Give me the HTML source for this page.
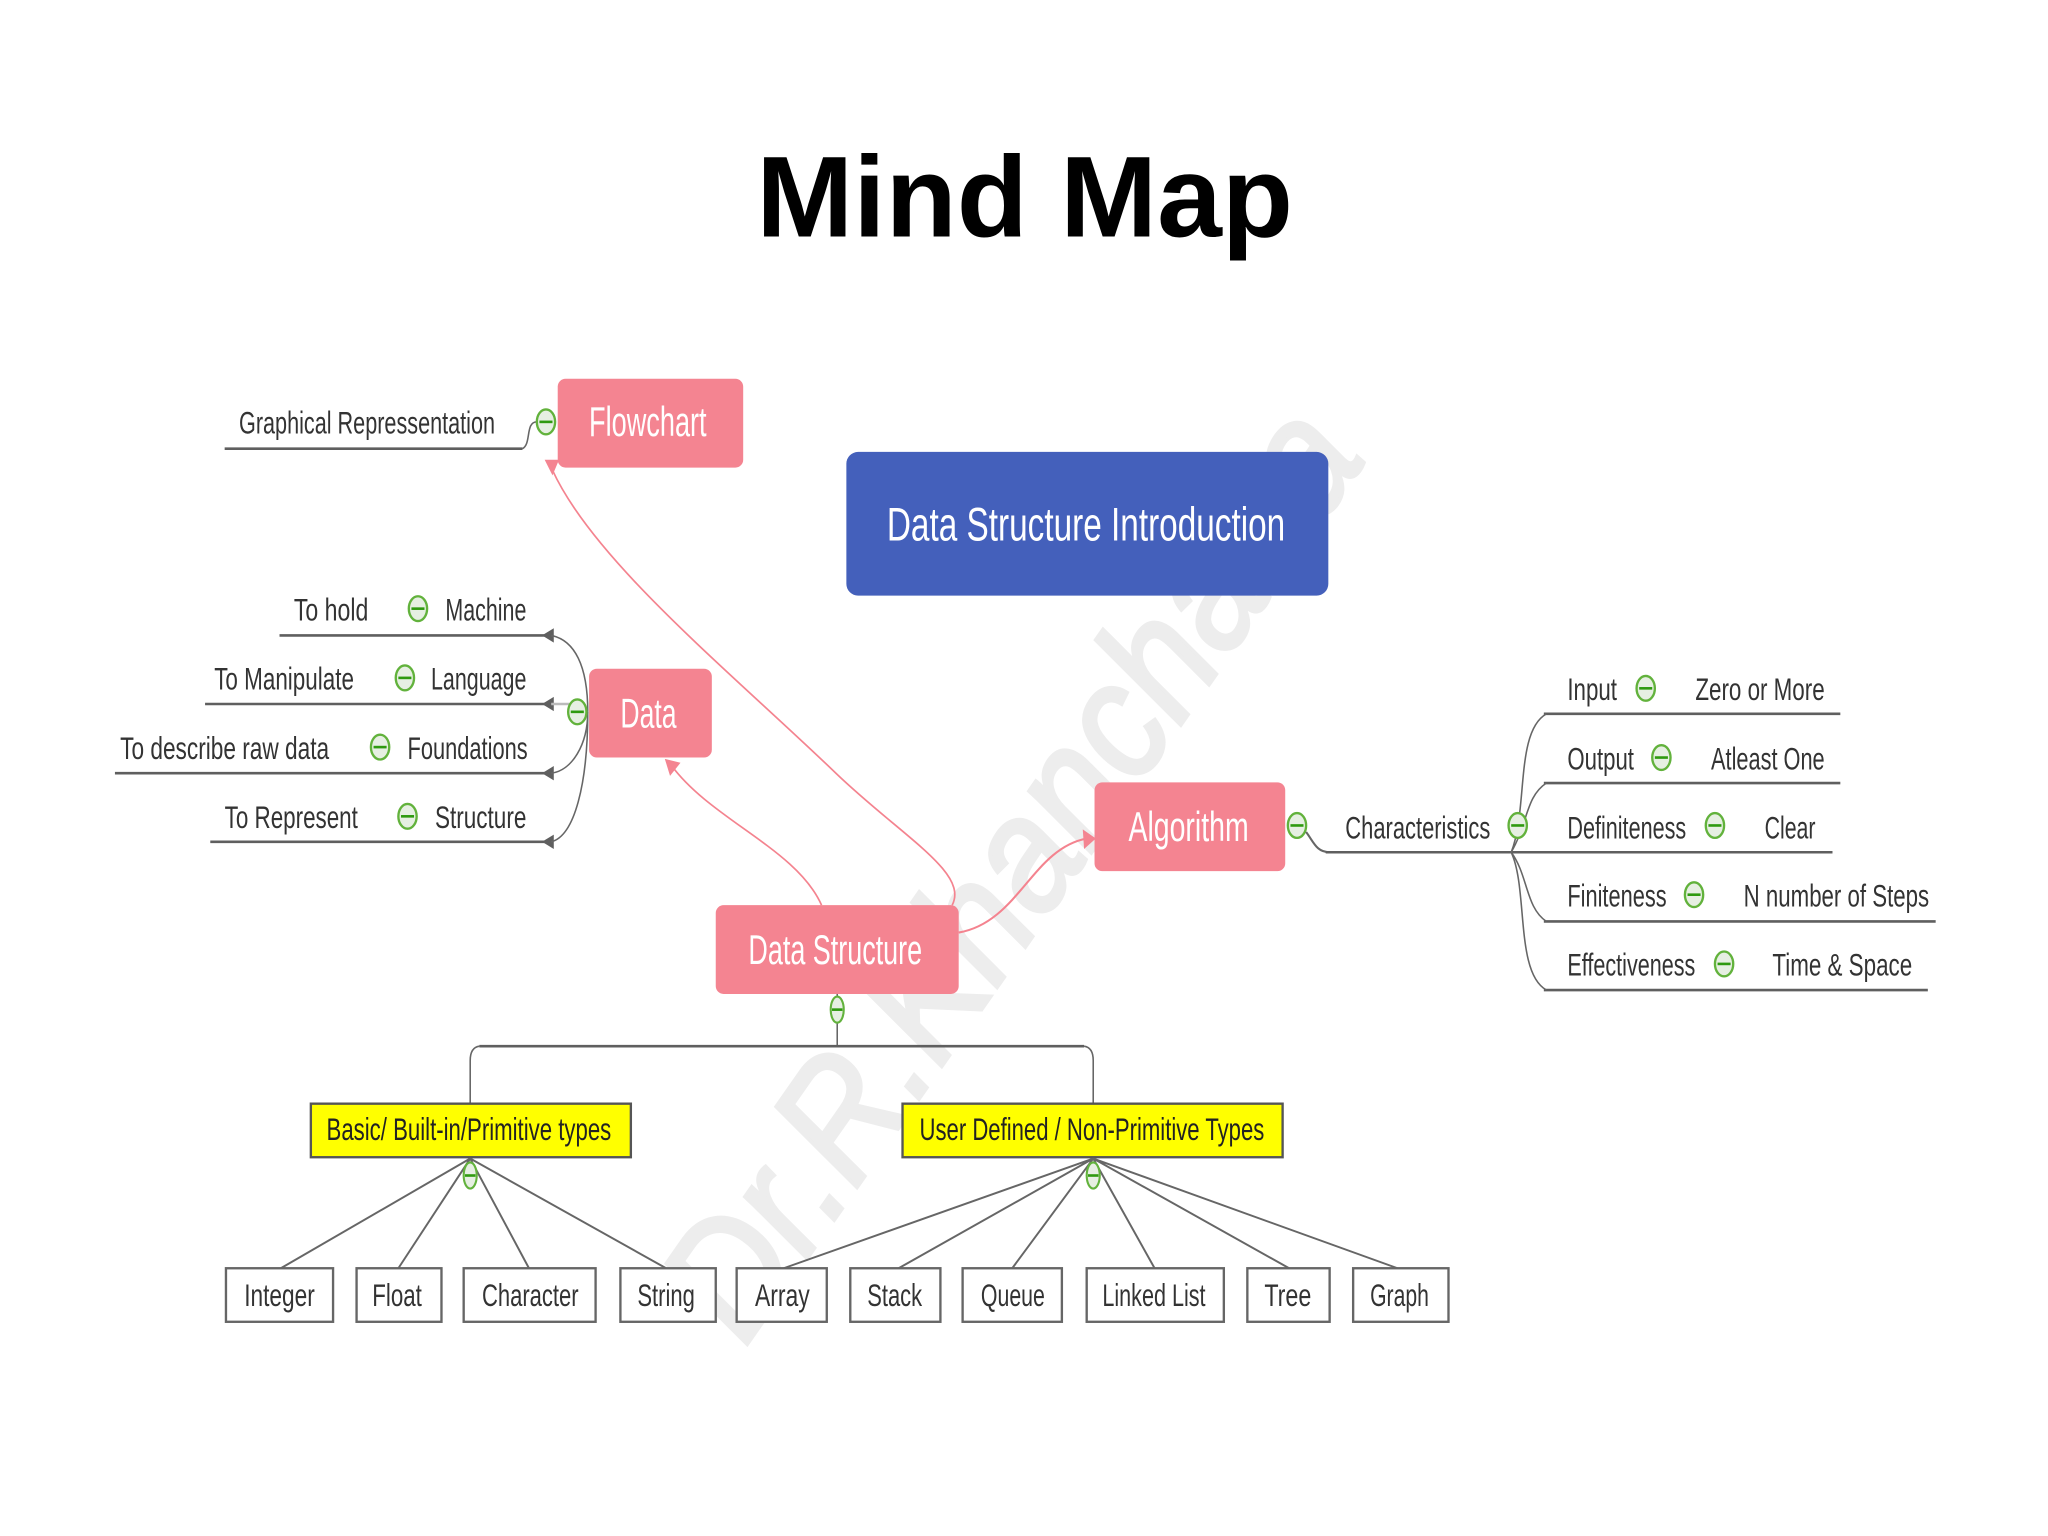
<!DOCTYPE html>
<html>
<head>
<meta charset="utf-8">
<style>
html,body{margin:0;padding:0;background:#fff}
svg{display:block}
text{font-family:"Liberation Sans",sans-serif;fill:#333}
.w{fill:#fff;font-size:32px}
.n{font-size:24px}
.d{font-size:24px;fill:#222}
.l{fill:none;stroke:#5f5f5f;stroke-width:2}
.c{fill:none;stroke:#666;stroke-width:1.2}
.p{fill:none;stroke:#f4838f;stroke-width:1.3}
.b{fill:#fff;stroke:#666;stroke-width:1.8}
</style>
</head>
<body>
<svg width="2048" height="1536" viewBox="0 0 1568 1176" xmlns="http://www.w3.org/2000/svg">
<defs>
<g id="i">
<ellipse cx="0" cy="0" rx="7" ry="9.5" fill="#e6efe2" stroke="#62b23c" stroke-width="1.8"/>
<rect x="-5" y="-1" width="10" height="2" fill="#2f9a10"/>
</g>
<g id="k">
<ellipse cx="0" cy="0" rx="5" ry="10" fill="#e6efe2" stroke="#62b23c" stroke-width="1.6"/>
<rect x="-4" y="-1" width="8" height="2" fill="#2f9a10"/>
</g>
</defs>
<rect width="1568" height="1176" fill="#fff"/>

<text x="0" y="0" transform="translate(570,1032) rotate(-55)" font-size="125" font-style="italic" textLength="832" lengthAdjust="spacingAndGlyphs" style="fill:#ededed;stroke:#ededed;stroke-width:3">Dr.R.Khanchana</text>

<text x="579" y="181" font-size="88" font-weight="bold" textLength="411" lengthAdjust="spacingAndGlyphs" style="fill:#000">Mind Map</text>

<rect x="427" y="290" width="142" height="68" rx="6" fill="#f48491"/>
<text class="w" x="451" y="334" textLength="90" lengthAdjust="spacingAndGlyphs">Flowchart</text>
<rect x="648" y="346" width="369" height="110" rx="9" fill="#4460bb"/>
<text class="w" x="679" y="414" style="font-size:36px" textLength="305" lengthAdjust="spacingAndGlyphs">Data Structure Introduction</text>
<rect x="451" y="512" width="94" height="68" rx="6" fill="#f48491"/>
<text class="w" x="475" y="557" textLength="43" lengthAdjust="spacingAndGlyphs">Data</text>
<rect x="548" y="693" width="186" height="68" rx="6" fill="#f48491"/>
<text class="w" x="573" y="738" textLength="133" lengthAdjust="spacingAndGlyphs">Data Structure</text>
<rect x="838" y="599" width="146" height="68" rx="6" fill="#f48491"/>
<text class="w" x="864" y="644" textLength="92" lengthAdjust="spacingAndGlyphs">Algorithm</text>

<path class="p" d="M729 693 C742 668 690 640 640 592 C560 515 455 430 423 360"/>
<polygon points="417,352 428,352 423,364" fill="#f48491"/>
<path class="p" d="M629 693 C610 650 545 628 514 586"/>
<polygon points="509,581 521,584 513,594" fill="#f48491"/>
<path class="p" d="M734 714 C780 706 790 650 832 642" style="stroke-width:1.6"/>
<polygon points="839,642 829,635 830,650" fill="#f48491"/>

<path class="l" d="M172 343.5 H400"/>
<path class="c" d="M400 343.5 C407 340 402 323 411 323"/>
<use href="#i" x="418" y="323"/>
<text class="n" x="183" y="332" textLength="196" lengthAdjust="spacingAndGlyphs">Graphical Repressentation</text>

<path class="l" d="M214 486.5 H420"/>
<path class="l" d="M157 539 H420"/>
<path class="l" d="M88 592 H420"/>
<path class="l" d="M161 644.5 H420"/>
<polygon points="415,486.5 424,481 424,492" fill="#5f5f5f"/>
<polygon points="415,539 424,533.5 424,544.5" fill="#5f5f5f"/>
<polygon points="415,592 424,586.5 424,597.5" fill="#5f5f5f"/>
<polygon points="415,644.5 424,639 424,650" fill="#5f5f5f"/>
<path class="c" d="M422 486.5 C440 490 450 510 450 545"/>
<path class="c" d="M422 539 H436" style="stroke:#bbb;stroke-width:2"/>
<path class="c" d="M422 592 C438 590 450 570 450 545"/>
<path class="c" d="M422 644.5 C440 640 450 600 450 545"/>
<use href="#i" x="442" y="545"/>

<text class="n" x="225" y="475" textLength="57" lengthAdjust="spacingAndGlyphs">To hold</text>
<use href="#i" x="320" y="466"/>
<text class="n" x="341" y="475" textLength="62" lengthAdjust="spacingAndGlyphs">Machine</text>
<text class="n" x="164" y="528" textLength="107" lengthAdjust="spacingAndGlyphs">To Manipulate</text>
<use href="#i" x="310" y="519"/>
<text class="n" x="330" y="528" textLength="73" lengthAdjust="spacingAndGlyphs">Language</text>
<text class="n" x="92" y="581" textLength="160" lengthAdjust="spacingAndGlyphs">To describe raw data</text>
<use href="#i" x="291" y="572"/>
<text class="n" x="312" y="581" textLength="92" lengthAdjust="spacingAndGlyphs">Foundations</text>
<text class="n" x="172" y="634" textLength="102" lengthAdjust="spacingAndGlyphs">To Represent</text>
<use href="#i" x="312" y="625"/>
<text class="n" x="333" y="634" textLength="70" lengthAdjust="spacingAndGlyphs">Structure</text>

<use href="#i" x="993" y="632"/>
<path class="c" d="M1000 637 C1006 645 1008 652.5 1018 652.5" style="stroke-width:1.6"/>
<path class="l" d="M1015 652.5 H1403"/>
<text class="n" x="1030" y="642" textLength="111" lengthAdjust="spacingAndGlyphs">Characteristics</text>
<path class="l" d="M1182 546.5 H1409"/>
<path class="l" d="M1182 599.5 H1409"/>
<path class="l" d="M1182 705.5 H1482"/>
<path class="l" d="M1182 758 H1476"/>
<path class="c" d="M1157 652.5 C1170 620 1160 560 1184 546.5"/>
<path class="c" d="M1157 652.5 C1170 630 1168 610 1184 599.5"/>
<path class="c" d="M1157 652.5 C1170 670 1168 695 1184 705.5"/>
<path class="c" d="M1157 652.5 C1170 680 1160 745 1184 758"/>
<use href="#i" x="1162" y="632"/>

<text class="n" x="1200" y="536" textLength="38" lengthAdjust="spacingAndGlyphs">Input</text>
<use href="#i" x="1260" y="527"/>
<text class="n" x="1298" y="536" textLength="99" lengthAdjust="spacingAndGlyphs">Zero or More</text>
<text class="n" x="1200" y="589" textLength="51" lengthAdjust="spacingAndGlyphs">Output</text>
<use href="#i" x="1272" y="580"/>
<text class="n" x="1310" y="589" textLength="87" lengthAdjust="spacingAndGlyphs">Atleast One</text>
<text class="n" x="1200" y="642" textLength="91" lengthAdjust="spacingAndGlyphs">Definiteness</text>
<use href="#i" x="1313" y="632"/>
<text class="n" x="1351" y="642" textLength="39" lengthAdjust="spacingAndGlyphs">Clear</text>
<text class="n" x="1200" y="694" textLength="76" lengthAdjust="spacingAndGlyphs">Finiteness</text>
<use href="#i" x="1297" y="685"/>
<text class="n" x="1335" y="694" textLength="142" lengthAdjust="spacingAndGlyphs">N number of Steps</text>
<text class="n" x="1200" y="747" textLength="98" lengthAdjust="spacingAndGlyphs">Effectiveness</text>
<use href="#i" x="1320" y="738"/>
<text class="n" x="1357" y="747" textLength="107" lengthAdjust="spacingAndGlyphs">Time &amp; Space</text>

<path class="c" d="M641 761 V801"/>
<use href="#k" x="641" y="773"/>
<path class="l" d="M367 801 H830"/>
<path class="c" d="M367 801 Q360 802 360 812 V845"/>
<path class="c" d="M830 801 Q837 802 837 812 V845"/>

<rect x="238" y="845" width="245" height="41" fill="#ffff00" stroke="#555" stroke-width="1.8"/>
<text class="d" x="250" y="873" textLength="218" lengthAdjust="spacingAndGlyphs">Basic/ Built-in/Primitive types</text>
<rect x="691" y="845" width="291" height="41" fill="#ffff00" stroke="#555" stroke-width="1.8"/>
<text class="d" x="704" y="873" textLength="264" lengthAdjust="spacingAndGlyphs">User Defined / Non-Primitive Types</text>

<path class="c" d="M360 887 L215 971 M360 887 L305 971 M360 887 L405 971 M360 887 L510 971" style="stroke-width:1.5"/>
<path class="c" d="M837 887 L600 971 M837 887 L688 971 M837 887 L775 971 M837 887 L884 971 M837 887 L987 971 M837 887 L1070 971" style="stroke-width:1.5"/>
<use href="#k" x="360" y="900"/>
<use href="#k" x="837" y="900"/>

<rect class="b" x="173" y="971" width="82" height="41"/>
<text class="n" x="187" y="1000" textLength="54" lengthAdjust="spacingAndGlyphs">Integer</text>
<rect class="b" x="273" y="971" width="65" height="41"/>
<text class="n" x="285" y="1000" textLength="38" lengthAdjust="spacingAndGlyphs">Float</text>
<rect class="b" x="355" y="971" width="101" height="41"/>
<text class="n" x="369" y="1000" textLength="74" lengthAdjust="spacingAndGlyphs">Character</text>
<rect class="b" x="475" y="971" width="73" height="41"/>
<text class="n" x="488" y="1000" textLength="44" lengthAdjust="spacingAndGlyphs">String</text>
<rect class="b" x="564" y="971" width="69" height="41"/>
<text class="n" x="578" y="1000" textLength="42" lengthAdjust="spacingAndGlyphs">Array</text>
<rect class="b" x="651" y="971" width="69" height="41"/>
<text class="n" x="664" y="1000" textLength="42" lengthAdjust="spacingAndGlyphs">Stack</text>
<rect class="b" x="737" y="971" width="76" height="41"/>
<text class="n" x="751" y="1000" textLength="49" lengthAdjust="spacingAndGlyphs">Queue</text>
<rect class="b" x="832" y="971" width="105" height="41"/>
<text class="n" x="844" y="1000" textLength="79" lengthAdjust="spacingAndGlyphs">Linked List</text>
<rect class="b" x="955" y="971" width="63" height="41"/>
<text class="n" x="968" y="1000" textLength="36" lengthAdjust="spacingAndGlyphs">Tree</text>
<rect class="b" x="1036" y="971" width="73" height="41"/>
<text class="n" x="1049" y="1000" textLength="45" lengthAdjust="spacingAndGlyphs">Graph</text>
</svg>
</body>
</html>
